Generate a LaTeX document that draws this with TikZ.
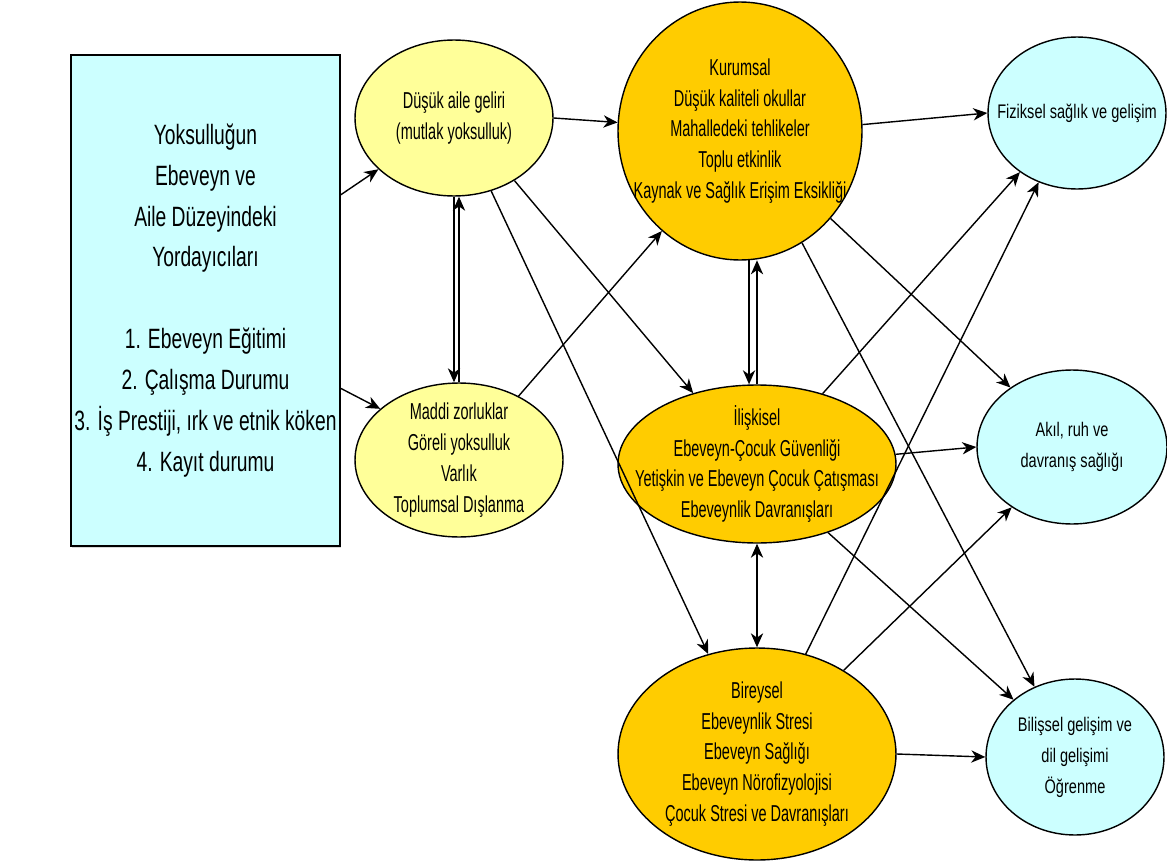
\documentclass[tikz,border=0pt]{standalone}
\usepackage{fontspec}
\setmainfont{Liberation Sans}
\newfontfamily\narrowfont[FakeStretch=0.69]{Liberation Sans}
\newfontfamily\midfont[FakeStretch=0.63]{Liberation Sans}
\newfontfamily\outfont[FakeStretch=0.74]{Liberation Sans}
\usepackage{xcolor}
\usetikzlibrary{arrows.meta, shapes.geometric, shadows}

\definecolor{paleyellow}{HTML}{FFFF99}
\definecolor{amber}{HTML}{FFCC00}
\definecolor{palecyan}{HTML}{CCFFFF}

\begin{document}
\begin{tikzpicture}[
		x=0.02cm, y=-0.02cm,
		line width=0.8pt,
		every node/.style={text=black},
		pred box/.style={draw, fill=palecyan, line width=0.9pt, minimum width=5.34cm, minimum height=9.82cm,
			align=center, inner sep=2pt, font=\narrowfont\fontsize{15.9}{23.3}\selectfont,
			drop shadow={shadow xshift=0.8pt, shadow yshift=-1pt, fill=gray!60}},
		ell/.style={ellipse, draw, inner sep=0pt},
		income/.style={ell, fill=paleyellow},
		context/.style={ell, fill=amber},
		outcome/.style={ell, fill=palecyan},
		mid text/.style={align=center, font=\midfont\fontsize{13.1}{17.5}\selectfont},
		out text/.style={align=center, font=\outfont\fontsize{11.2}{17.6}\selectfont},
		link/.style={-{Stealth[length=8pt, width=7pt, inset=2.5pt]}},
		both link/.style={{Stealth[length=8pt, width=7pt, inset=2.5pt]}-{Stealth[length=8pt, width=7pt, inset=2.5pt]}}
		]
	
	\useasboundingbox (0, 0) rectangle (1167, 862);
	
	% Predictors
	\node[pred box] (box) at (205.5, 300.5) {Yoksulluğun\\Ebeveyn ve\\Aile Düzeyindeki\\Yordayıcıları\\[23.3pt]
		1. Ebeveyn Eğitimi\\2. Çalışma Durumu\\3. İş Prestiji, ırk ve etnik köken\\4. Kayıt durumu};
	
	% Income
	\node[income, minimum width=3.96cm, minimum height=3.12cm,
		label={[mid text]center:{Düşük aile geliri\\(mutlak yoksulluk)}}] (A) at (454, 118) {};
	\node[income, minimum width=4.16cm, minimum height=3.08cm,
		label={[mid text]center:{Maddi zorluklar\\Göreli yoksulluk\\Varlık\\Toplumsal Dışlanma}}] (B) at (459, 460) {};
	
	% Contexts
	\node[context, minimum width=4.88cm, minimum height=5.16cm,
		label={[mid text]center:{Kurumsal\\Düşük kaliteli okullar\\Mahalledeki tehlikeler\\Toplu etkinlik\\Kaynak ve Sağlık Erişim Eksikliği}}] (K) at (740, 131) {};
	\node[context, minimum width=5.56cm, minimum height=3.16cm,
		label={[mid text]center:{İlişkisel\\Ebeveyn-Çocuk Güvenliği\\Yetişkin ve Ebeveyn Çocuk Çatışması\\Ebeveynlik Davranışları}}] (I) at (757, 464) {};
	\node[context, minimum width=5.56cm, minimum height=4.24cm,
		label={[mid text]center:{Bireysel\\Ebeveynlik Stresi\\Ebeveyn Sağlığı\\Ebeveyn Nörofizyolojisi\\Çocuk Stresi ve Davranışları}}] (Br) at (757, 754) {};
	
	% Outcomes
	\node[outcome, minimum width=3.56cm, minimum height=3.04cm,
		label={[out text]center:{Fiziksel sağlık ve gelişim}}] (F) at (1077, 113) {};
	\node[outcome, minimum width=3.8cm, minimum height=3.08cm,
		label={[out text]center:{Akıl, ruh ve\\davranış sağlığı}}] (Ak) at (1072, 447) {};
	\node[outcome, minimum width=3.56cm, minimum height=3.12cm,
		label={[out text]center:{Bilişsel gelişim ve\\dil gelişimi\\Öğrenme}}] (Bl) at (1075, 757) {};
	
	% Predictors to income
	\draw[link] (box.38) -- (A);
	\draw[link] (box.-33) -- (B.147);
	\draw[link] (A.south) -- (A.south |- B.north);
	\draw[link] (B.north) -- (B.north |- A.south);
	
	% Income to contexts
	\draw[link] (A.east) -- (K);
	\draw[link] (A.-46) -- (I.132);
	\draw[link] (A.-63) -- (Br.116);
	\draw[link] (B.47) -- (K.232);
	
	% Between contexts
	\draw[link] (K.-86) -- (K.-86 |- I.north);
	\draw[link] (I.north) -- (I.north |- K.-86);
	\draw[both link] (I.south) -- (Br.north);
	
	% Contexts to outcomes
	\draw[link] (K.3) -- (F.west);
	\draw[link] (K.-44) -- (Ak.136);
	\draw[link] (K.-61) -- (Bl.120);
	\draw[link] (I.47) -- (F.226);
	\draw[link] (I.4) -- (Ak.west);
	\draw[link] (I.-44) -- (Bl.137);
	\draw[link] (Br.64) -- (F.241);
	\draw[link] (Br.44) -- (Ak.225);
	\draw[link] (Br.east) -- (Bl.west);

\end{tikzpicture}
\end{document}
